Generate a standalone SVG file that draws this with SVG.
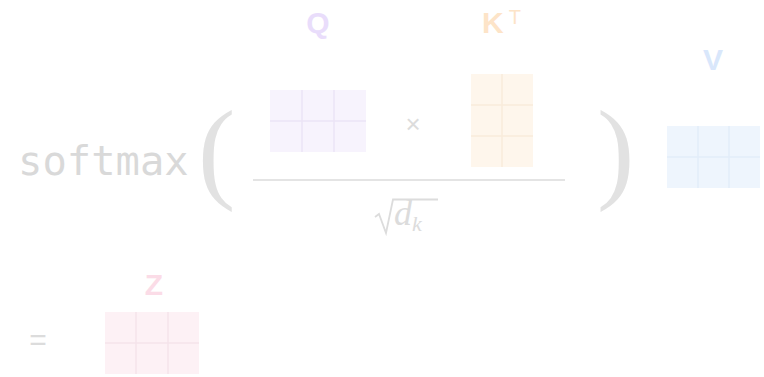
<svg xmlns="http://www.w3.org/2000/svg" width="764" height="377" viewBox="0 0 764 377">
<style>
.gray{fill:#d9d9d9;font-family:"DejaVu Sans Mono",monospace}
.paren{fill:#e2e2e2;font-family:"Liberation Serif","Times New Roman",serif;font-size:112px}
.lbl{font-family:"Liberation Sans",Arial,sans-serif;font-weight:bold;font-size:30px}
.grid line{stroke-width:1.5}
</style>
<rect width="764" height="377" fill="#ffffff"/>
<g id="softmax"><text class="gray" x="18" y="175" font-size="40.5">softmax</text></g>
<g id="lparen"><text class="paren" x="198" y="188">(</text></g>
<g id="rparen"><text class="paren" x="597" y="188">)</text></g>
<g id="Q">
<text class="lbl" x="318" y="33" text-anchor="middle" fill="#e9ddfb">Q</text>
<rect x="270" y="90" width="96" height="62" fill="#f7f3fd"/>
<g class="grid" stroke="#ebe5f6"><line x1="302" y1="90" x2="302" y2="152"/><line x1="334" y1="90" x2="334" y2="152"/><line x1="270" y1="121" x2="366" y2="121"/></g>
</g>
<g id="times"><text x="413" y="133" text-anchor="middle" font-family="Liberation Sans,Arial,sans-serif" font-size="26" fill="#dcdcdc">×</text></g>
<g id="KT">
<text class="lbl" x="482" y="33" fill="#fde4c8">K<tspan font-size="20" font-weight="normal" dx="5" dy="-9">T</tspan></text>
<rect x="471" y="74" width="62" height="93" fill="#fef6ec"/>
<g class="grid" stroke="#f8ebdb"><line x1="502" y1="74" x2="502" y2="167"/><line x1="471" y1="105" x2="533" y2="105"/><line x1="471" y1="136" x2="533" y2="136"/></g>
</g>
<g id="fraction"><line x1="253" y1="180" x2="565" y2="180" stroke="#e4e4e4" stroke-width="2"/></g>
<g id="sqrt">
<polyline points="375,217 379,214 386,233 393,199.5 438,199.5" fill="none" stroke="#dcdcdc" stroke-width="1.8" stroke-linejoin="miter"/>
<text x="394" y="225" font-family="Liberation Serif,serif" font-style="italic" font-size="36" fill="#dcdcdc">d<tspan font-size="22" dy="6">k</tspan></text>
</g>
<g id="V">
<text class="lbl" x="713" y="70" text-anchor="middle" fill="#d9e7fb">V</text>
<rect x="667" y="126" width="93" height="62" fill="#eef5fd"/>
<g class="grid" stroke="#e2ecf8"><line x1="698" y1="126" x2="698" y2="188"/><line x1="729" y1="126" x2="729" y2="188"/><line x1="667" y1="157" x2="760" y2="157"/></g>
</g>
<g id="equals"><text x="38" y="350" text-anchor="middle" font-family="Liberation Sans,Arial,sans-serif" font-size="30" fill="#dcdcdc">=</text></g>
<g id="Z">
<text class="lbl" x="154" y="295" text-anchor="middle" fill="#fbdce7">Z</text>
<rect x="105" y="312" width="94" height="62" fill="#fdf1f5"/>
<g class="grid" stroke="#f5e3ea"><line x1="136" y1="312" x2="136" y2="374"/><line x1="168" y1="312" x2="168" y2="374"/><line x1="105" y1="343" x2="199" y2="343"/></g>
</g>
</svg>
